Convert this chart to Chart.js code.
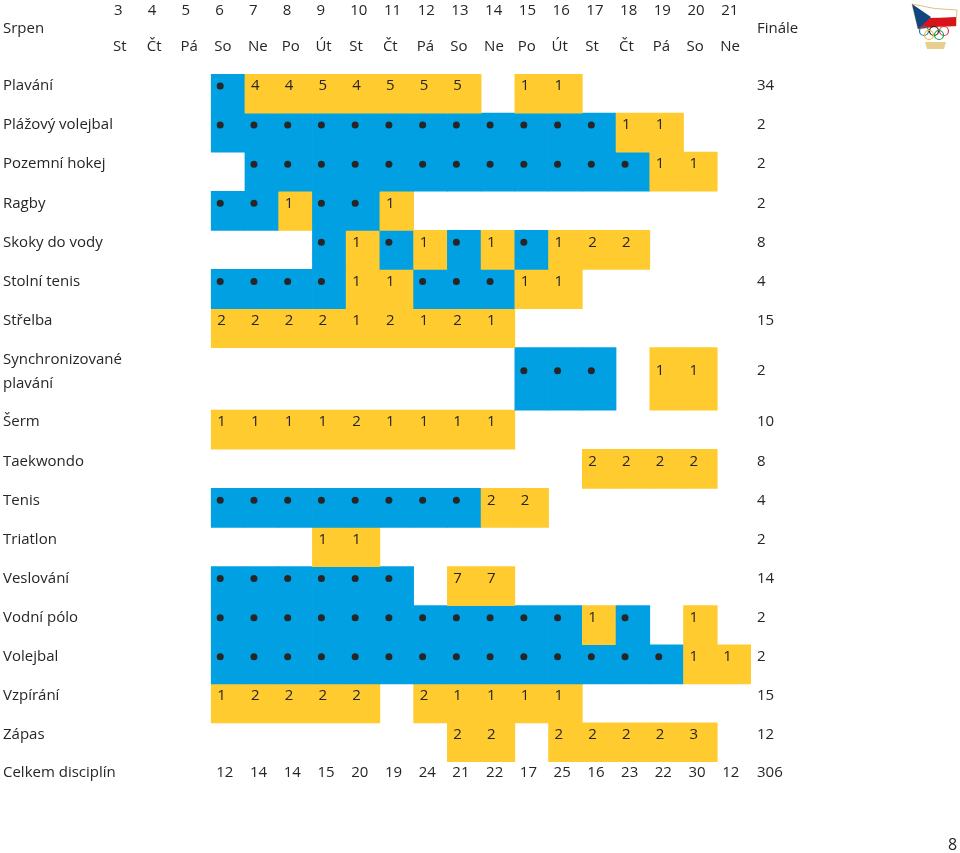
<!DOCTYPE html>
<html>
<head>
<meta charset="utf-8">
<script src="https://cdn.jsdelivr.net/npm/chart.js@4/dist/chart.umd.min.js"></script>
<style>
  html, body { margin: 0; padding: 0; background: #fff; }
</style>
</head>
<body>
<canvas id="schedule" width="960" height="853"></canvas>
<script>
'use strict';

// days of August shown in the header
var days = ['3', '4', '5', '6', '7', '8', '9', '10', '11', '12', '13', '14', '15', '16', '17', '18', '19', '20', '21'];
var weekdays = ['St', 'Čt', 'Pá', 'So', 'Ne', 'Po', 'Út', 'St', 'Čt', 'Pá', 'So', 'Ne', 'Po', 'Út', 'St', 'Čt', 'Pá', 'So', 'Ne'];

// sports (a two line label is an array)
var sports = ['Plavání', 'Plážový volejbal', 'Pozemní hokej', 'Ragby', 'Skoky do vody', 'Stolní tenis',
  'Střelba', ['Synchronizované', 'plavání'], 'Šerm', 'Taekwondo', 'Tenis', 'Triatlon', 'Veslování',
  'Vodní pólo', 'Volejbal', 'Vzpírání', 'Zápas'];

// per day: null = nothing, 0 = competition without finals, n = number of finals
var plavani      = [null, null, null, 0, 4, 4, 5, 4, 5, 5, 5, null, 1, 1, null, null, null, null, null];
var plazovy      = [null, null, null, 0, 0, 0, 0, 0, 0, 0, 0, 0, 0, 0, 0, 1, 1, null, null];
var hokej        = [null, null, null, null, 0, 0, 0, 0, 0, 0, 0, 0, 0, 0, 0, 0, 1, 1, null];
var ragby        = [null, null, null, 0, 0, 1, 0, 0, 1, null, null, null, null, null, null, null, null, null, null];
var skoky        = [null, null, null, null, null, null, 0, 1, 0, 1, 0, 1, 0, 1, 2, 2, null, null, null];
var stolniTenis  = [null, null, null, 0, 0, 0, 0, 1, 1, 0, 0, 0, 1, 1, null, null, null, null, null];
var strelba      = [null, null, null, 2, 2, 2, 2, 1, 2, 1, 2, 1, null, null, null, null, null, null, null];
var synchro      = [null, null, null, null, null, null, null, null, null, null, null, null, 0, 0, 0, null, 1, 1, null];
var serm         = [null, null, null, 1, 1, 1, 1, 2, 1, 1, 1, 1, null, null, null, null, null, null, null];
var taekwondo    = [null, null, null, null, null, null, null, null, null, null, null, null, null, null, 2, 2, 2, 2, null];
var tenis        = [null, null, null, 0, 0, 0, 0, 0, 0, 0, 0, 2, 2, null, null, null, null, null, null];
var triatlon     = [null, null, null, null, null, null, 1, 1, null, null, null, null, null, null, null, null, null, null, null];
var veslovani    = [null, null, null, 0, 0, 0, 0, 0, 0, null, 7, 7, null, null, null, null, null, null, null];
var vodniPolo    = [null, null, null, 0, 0, 0, 0, 0, 0, 0, 0, 0, 0, 0, 1, 0, null, 1, null];
var volejbal     = [null, null, null, 0, 0, 0, 0, 0, 0, 0, 0, 0, 0, 0, 0, 0, 0, 1, 1];
var vzpirani     = [null, null, null, 1, 2, 2, 2, 2, null, 2, 1, 1, 1, 1, null, null, null, null, null];
var zapas        = [null, null, null, null, null, null, null, null, null, null, 2, 2, null, 2, 2, 2, 2, 3, null];

var schedule = [plavani, plazovy, hokej, ragby, skoky, stolniTenis, strelba, synchro, serm,
  taekwondo, tenis, triatlon, veslovani, vodniPolo, volejbal, vzpirani, zapas];

// finals per sport, disciplines per day and the overall total
var finals = [34, 2, 2, 2, 8, 4, 15, 2, 10, 8, 4, 2, 14, 2, 2, 15, 12];
var dailyTotals = [null, null, null, 12, 14, 14, 15, 20, 19, 24, 21, 22, 17, 25, 16, 23, 22, 30, 12];
var totalFinals = 306;

var BLUE = '#00a0e3';
var YELLOW = '#ffcb2f';
var INK = '#262626';
var FONT = '15px "Open Sans"';

// row spans: two line rows are taller
var rowStart = [];
var units = 0;
sports.forEach(function (name) {
  rowStart.push(units);
  units += Array.isArray(name) ? 1.6 : 1;
});

// one floating bar dataset per sport
var datasets = schedule.map(function (row, r) {
  var top = rowStart[r];
  var span = Array.isArray(sports[r]) ? 1.6 : 1;
  return {
    label: Array.isArray(sports[r]) ? sports[r].join(' ') : sports[r],
    data: row.map(function (v) { return v === null ? null : [top, top + span]; }),
    backgroundColor: row.map(function (v) { return v === 0 ? BLUE : YELLOW; }),
    borderWidth: 0,
    grouped: false,
    barPercentage: 1,
    categoryPercentage: 1
  };
});

// draws header, labels, dots, numbers and totals using the chart scales
var textPlugin = {
  id: 'scheduleText',
  afterDatasetsDraw: function (chart) {
    var ctx = chart.ctx;
    var xs = chart.scales.x;
    var ys = chart.scales.y;
    var colW = xs.getPixelForValue(1) - xs.getPixelForValue(0);
    var area = chart.chartArea;
    function colLeft(i) { return xs.getPixelForValue(i) - colW / 2; }

    ctx.save();
    ctx.fillStyle = INK;
    ctx.font = FONT;
    ctx.textBaseline = 'middle';
    ctx.textAlign = 'left';

    // header
    ctx.fillText('Srpen', 3, area.top - 45);
    ctx.fillText('Finále', area.right + 6, area.top - 45);
    days.forEach(function (d, i) {
      ctx.fillText(d, colLeft(i) + 4, area.top - 63);
      ctx.fillText(weekdays[i], colLeft(i) + 3, area.top - 27);
    });

    // rows
    schedule.forEach(function (row, r) {
      var y = ys.getPixelForValue(rowStart[r]) + 12;
      var name = sports[r];
      if (Array.isArray(name)) {
        ctx.fillText(name[0], 3, y);
        ctx.fillText(name[1], 3, y + 24);
        y += 11;
      } else {
        ctx.fillText(name, 3, y);
      }
      row.forEach(function (v, i) {
        if (v === null) return;
        if (v === 0) {
          ctx.beginPath();
          ctx.arc(colLeft(i) + 9, y, 3.5, 0, Math.PI * 2);
          ctx.fill();
        } else {
          ctx.fillText(String(v), colLeft(i) + 6, y);
        }
      });
      ctx.fillText(String(finals[r]), area.right + 6, y);
    });

    // totals row
    var ty = area.bottom + 11;
    ctx.fillText('Celkem disciplín', 3, ty);
    dailyTotals.forEach(function (t, i) {
      if (t !== null) ctx.fillText(String(t), colLeft(i) + 5, ty);
    });
    ctx.fillText(String(totalFinals), area.right + 6, ty);

    // page number
    ctx.font = '16px "Open Sans"';
    ctx.fillText('8', 948, 845);

    drawLogo(ctx);
    ctx.restore();
  }
};

// small Czech olympic team emblem in the corner
function drawLogo(ctx) {
  ctx.save();
  ctx.fillStyle = '#ffffff';
  ctx.strokeStyle = '#e2c27a';
  ctx.lineWidth = 1;
  ctx.beginPath();
  ctx.moveTo(912, 4); ctx.quadraticCurveTo(935, 10, 957, 10);
  ctx.lineTo(956, 26); ctx.quadraticCurveTo(935, 26, 918, 29);
  ctx.closePath();
  ctx.fill(); ctx.stroke();
  ctx.fillStyle = '#d7141a';
  ctx.beginPath();
  ctx.moveTo(924, 18); ctx.quadraticCurveTo(940, 18, 956, 17);
  ctx.lineTo(956, 26); ctx.quadraticCurveTo(935, 26, 918, 29);
  ctx.closePath();
  ctx.fill();
  ctx.fillStyle = '#11457e';
  ctx.beginPath();
  ctx.moveTo(912, 4); ctx.lineTo(931, 17); ctx.lineTo(918, 29);
  ctx.closePath();
  ctx.fill();
  var rings = [[924, 31, '#0081c8'], [934, 31, '#222222'], [944, 31, '#ee334e'], [929, 35, '#fcb131'], [939, 35, '#00a651']];
  ctx.lineWidth = 1.2;
  rings.forEach(function (c) {
    ctx.strokeStyle = c[2];
    ctx.beginPath();
    ctx.arc(c[0], c[1], 4.5, 0, Math.PI * 2);
    ctx.stroke();
  });
  ctx.fillStyle = 'rgba(226, 190, 110, 0.75)';
  ctx.beginPath();
  ctx.moveTo(925, 42); ctx.lineTo(946, 42); ctx.lineTo(944, 49); ctx.lineTo(927, 49);
  ctx.closePath();
  ctx.fill();
  ctx.restore();
}

var chart = new Chart(document.getElementById('schedule').getContext('2d'), {
  type: 'bar',
  data: {
    labels: days,
    datasets: datasets
  },
  options: {
    responsive: false,
    animation: false,
    events: [],
    layout: {
      padding: { left: 110, right: 209, top: 74, bottom: 91 }
    },
    plugins: {
      legend: { display: false },
      tooltip: { enabled: false }
    },
    scales: {
      x: { type: 'category', display: false, offset: true },
      y: { type: 'linear', display: false, reverse: true, min: 0, max: units, stacked: false }
    }
  },
  plugins: [textPlugin]
});
</script>
</body>
</html>
